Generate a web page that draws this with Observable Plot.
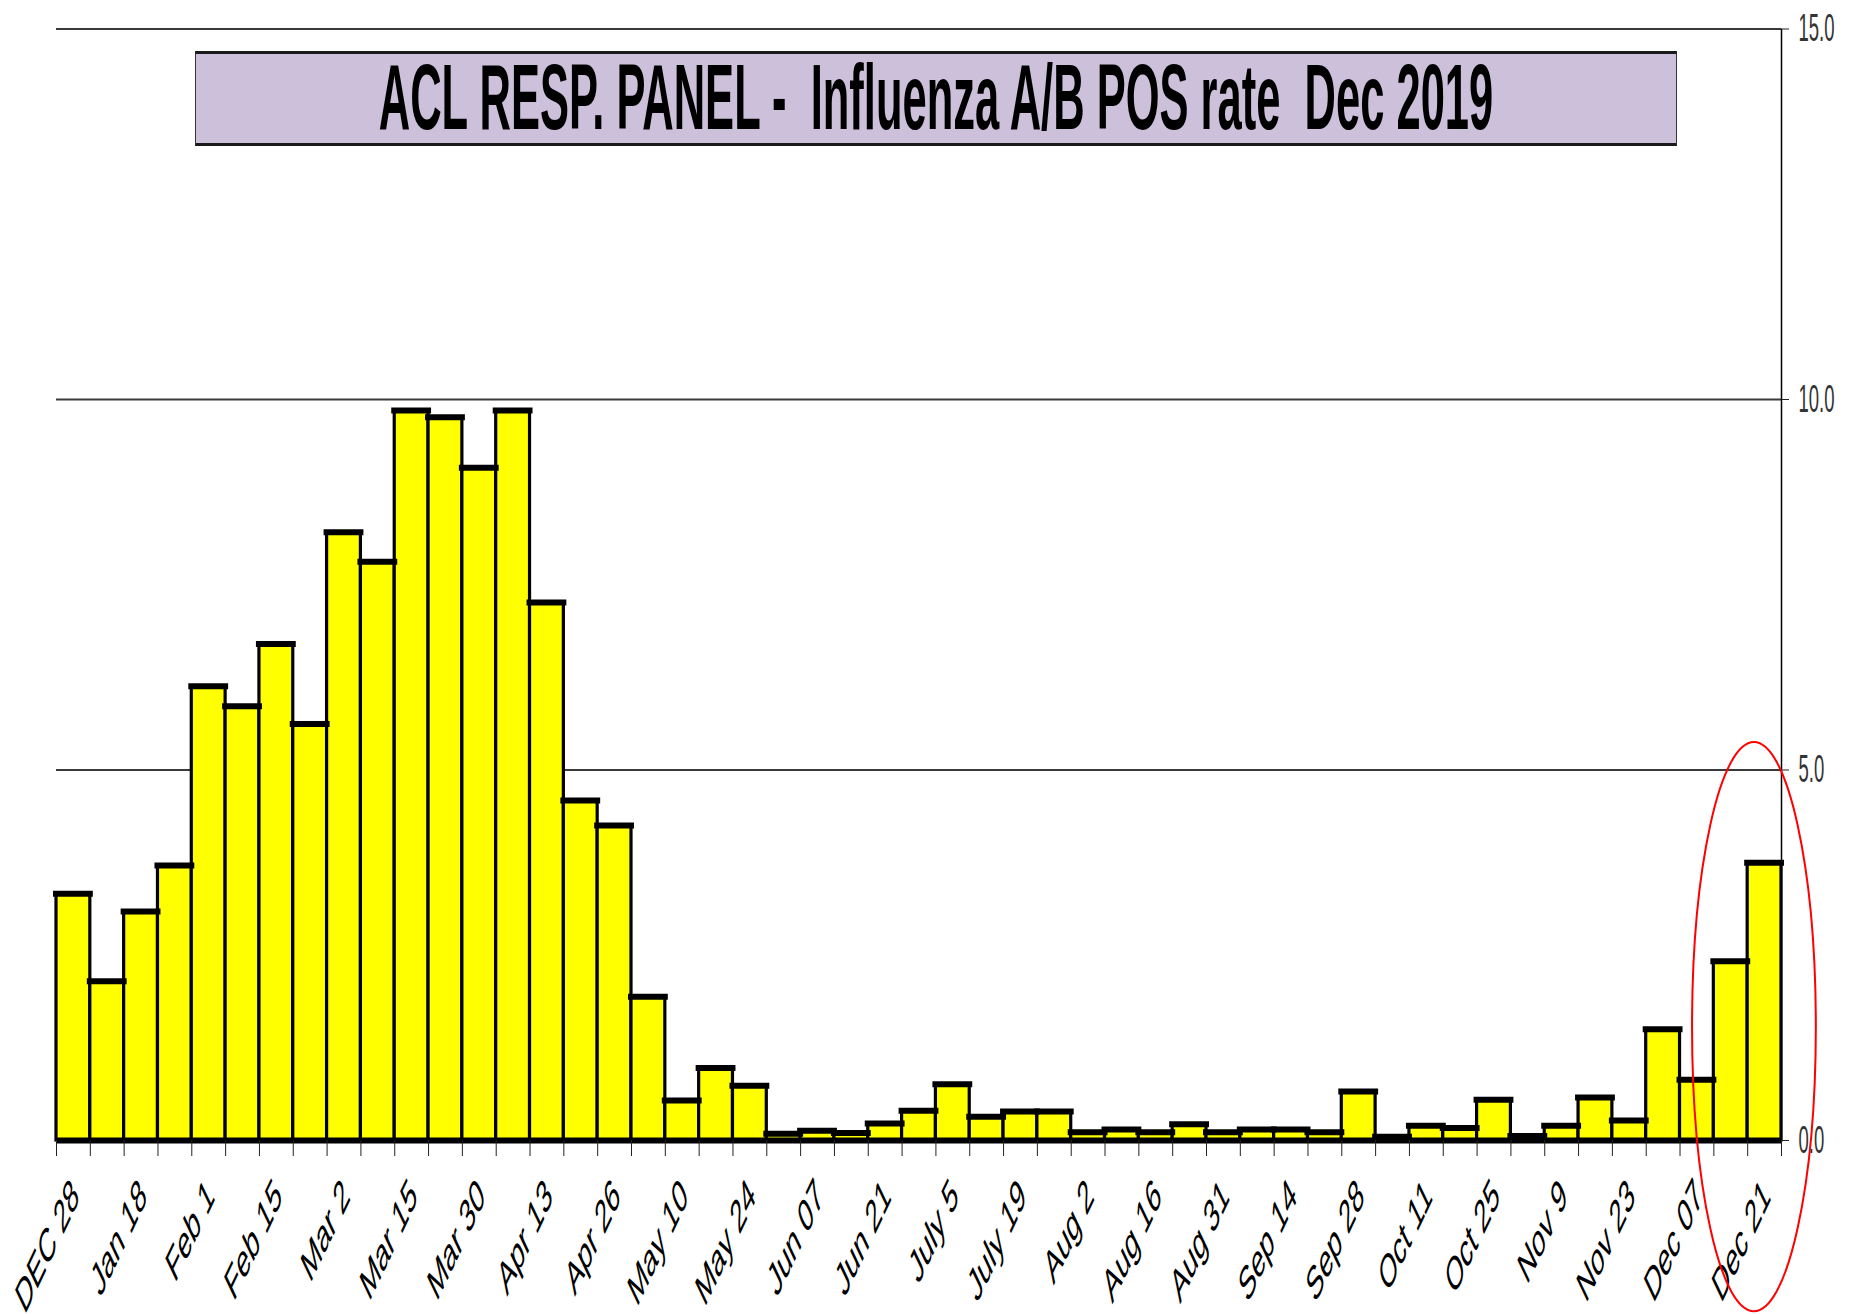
<!DOCTYPE html>
<html><head><meta charset="utf-8">
<script src="https://cdn.jsdelivr.net/npm/d3@7"></script>
<script src="https://cdn.jsdelivr.net/npm/@observablehq/plot@0.6"></script>
<style>
html,body{margin:0;padding:0;background:#fff;}
#wrap{position:relative;width:1856px;height:1314px;overflow:hidden;font-family:"Liberation Sans",Arial,sans-serif;}
#chart{position:absolute;left:0;top:0;}
#title{position:absolute;left:195px;top:51px;width:1482px;height:95px;box-sizing:border-box;background:#CCC0DA;border-top:3px solid #1a1a1a;border-bottom:3px solid #1a1a1a;border-left:1px solid #333;border-right:1px solid #333;display:flex;align-items:center;justify-content:center;}
#title span{font-weight:bold;font-size:43.5px;white-space:pre;transform:scaleY(2.15);display:inline-block;line-height:1;color:#000;}
</style></head><body>
<div id="wrap"><div id="chart"></div><div id="title"><span id="tt"></span></div></div>
<script>
const titleText = "ACL RESP. PANEL -  Influenza A/B POS rate  Dec 2019";
// one label every second week (bars 0, 2, 4, ...)
const weekLabels = ["DEC 28","Jan 18","Feb 1","Feb 15","Mar 2","Mar 15","Mar 30","Apr 13","Apr 26","May 10","May 24","Jun 07","Jun 21","July 5","July 19","Aug 2","Aug 16","Aug 31","Sep 14","Sep 28","Oct 11","Oct 25","Nov 9","Nov 23","Dec 07","Dec 21"];
// weekly Influenza A/B positivity rate (%)
const posRate = [3.33,2.15,3.09,3.71,6.13,5.86,6.70,5.62,8.21,7.81,9.85,9.76,9.08,9.85,7.26,4.59,4.25,1.94,0.54,0.98,0.74,0.09,0.13,0.10,0.23,0.40,0.76,0.32,0.39,0.39,0.11,0.15,0.11,0.22,0.11,0.15,0.15,0.11,0.66,0.05,0.20,0.17,0.55,0.06,0.20,0.58,0.27,1.50,0.82,2.42,3.75];
const yTicks = [0,5,10,15];
const gridValues = [5,10,15];
// red highlight ellipse, in data units (week index, rate)
const ellipseCenter = [50.2, 1.53];
const ellipseRadii = [1.83, 3.84];

document.getElementById("tt").textContent = titleText;

const data = posRate.map((v,i) => ({i, v}));
const nBars = posRate.length;
const K = 2.1;

function ellipseMark(index, scales) {
  const X = scales.x, Y = scales.y;
  const cx = X(ellipseCenter[0]), cy = Y(ellipseCenter[1]);
  const rx = Math.abs(X(ellipseCenter[0] + ellipseRadii[0]) - cx);
  const ry = Math.abs(Y(ellipseCenter[1] + ellipseRadii[1]) - cy);
  const e = document.createElementNS("http://www.w3.org/2000/svg", "ellipse");
  e.setAttribute("cx", cx); e.setAttribute("cy", cy);
  e.setAttribute("rx", rx); e.setAttribute("ry", ry);
  e.setAttribute("fill", "none"); e.setAttribute("stroke", "#ff0000"); e.setAttribute("stroke-width", 2);
  return e;
}

const chart = Plot.plot({
  width: 1856, height: 1314,
  marginLeft: 56, marginRight: 75, marginTop: 28.5, marginBottom: 174,
  style: {fontFamily: "'Liberation Sans', Arial, sans-serif", background: "#fff", overflow: "visible"},
  x: {type: "linear", domain: [0, nBars]},
  y: {domain: [0, 15]},
  marks: [
    Plot.ruleY(gridValues, {x1: 0, x2: nBars, stroke: "#3a3a3a", strokeWidth: 2}),
    Plot.rectY(data, {x1: "i", x2: d => d.i + 1, y: "v", fill: "#ffff00", stroke: "#000", strokeWidth: 3.2}),
    Plot.ruleY(data, {x1: "i", x2: d => d.i + 1, y: "v", stroke: "#000", strokeWidth: 6, strokeLinecap: "square"}),
    Plot.ruleY([0], {x1: 0, x2: nBars, stroke: "#000", strokeWidth: 6}),
    Plot.ruleX([nBars], {y1: 0, y2: 15, stroke: "#000", strokeWidth: 1.5}),
    Plot.axisX(d3.range(nBars + 1), {anchor: "bottom", tickSize: 16, tickFormat: () => "", stroke: "#222", label: null}),
    Plot.axisY(yTicks, {anchor: "right", tickSize: 7, tickPadding: 10, tickFormat: d3.format(".1f"), fontSize: 18.5, fill: "#333", stroke: "#222", label: null}),
    Plot.text(weekLabels, {x: (d, i) => i * 2 + 0.5, text: d => d, frameAnchor: "bottom", rotate: -45, textAnchor: "end", dx: 7, dy: 58, fontSize: 22.5, fill: "#000"}),
    ellipseMark
  ]
});
document.getElementById("chart").appendChild(chart);

// emulate the reference's vertically stretched (condensed) lettering
chart.querySelectorAll('[transform*="rotate("]').forEach(el => {
  el.setAttribute("transform", el.getAttribute("transform").replace(/rotate\(/, `scale(1,${K}) rotate(`));
});
chart.querySelectorAll('g[aria-label="y-axis tick label"] text').forEach(t => {
  const tr = t.getAttribute("transform") || "";
  t.setAttribute("transform", (tr + ` scale(1,${K})`).trim());
});
</script>
</body></html>
